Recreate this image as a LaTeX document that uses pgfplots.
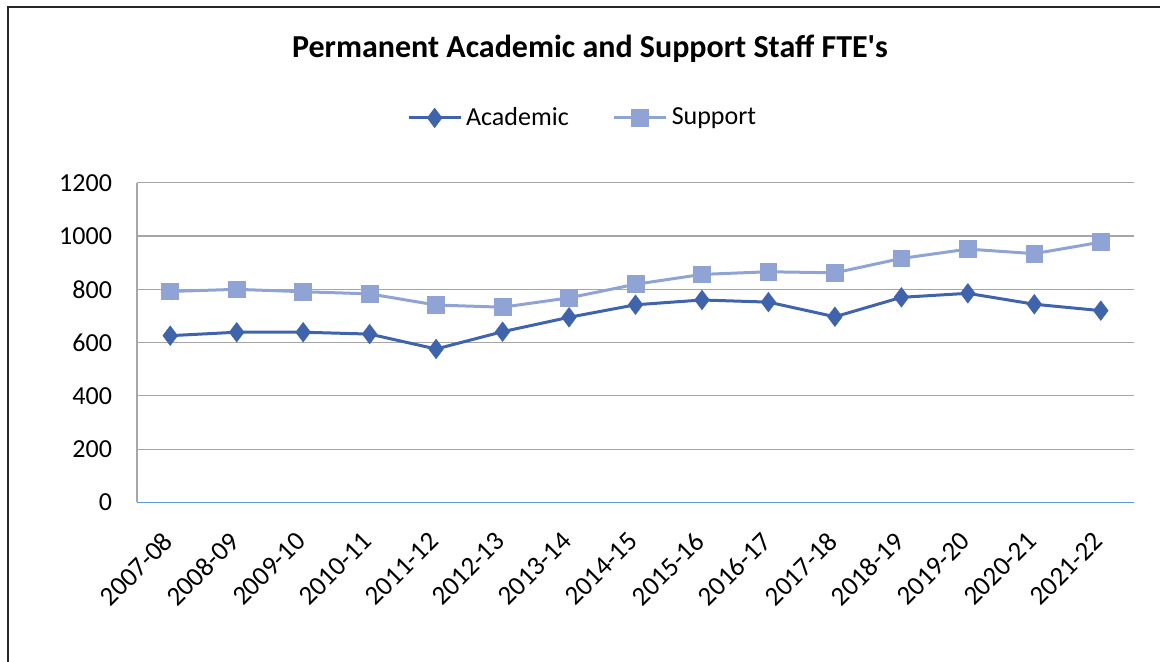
\documentclass[border=0pt]{standalone}
\usepackage{pgfplots}
\pgfplotsset{compat=1.18}
\usepackage{fontspec}
\setmainfont{Carlito}
\definecolor{acad}{RGB}{64,100,172}
\definecolor{supp}{RGB}{143,164,213}
\definecolor{gridc}{RGB}{166,166,166}
\definecolor{xaxc}{RGB}{91,155,213}
\begin{document}
\begin{tikzpicture}
\useasboundingbox (0,0) rectangle (580pt,-331pt);
\draw[black!85, line width=0.6pt] (4pt,-331pt) -- (4pt,-3.5pt) -- (580pt,-3.5pt);
\node[font=\fontsize{16}{19}\selectfont\bfseries] at (295pt,-24.5pt) {Permanent Academic and Support Staff FTE\textquotesingle s};
\begin{axis}[
  at={(68.5pt,-251.2pt)}, anchor=south west,
  scale only axis, width=498.5pt, height=159.8pt,
  xmin=-0.5, xmax=14.5, ymin=0, ymax=1200,
  ytick={0,200,...,1200},
  xtick={0,...,14},
  xticklabels={2007-08,2008-09,2009-10,2010-11,2011-12,2012-13,2013-14,2014-15,2015-16,2016-17,2017-18,2018-19,2019-20,2020-21,2021-22},
  /pgf/number format/assume math mode=true,
  /pgf/number format/set thousands separator={},
  tick style={draw=none},
  ymajorgrids, grid style={gridc, line width=0.6pt},
  axis x line*=bottom, axis y line*=left,
  x axis line style={xaxc, line width=0.6pt, -},
  y axis line style={gridc, line width=0.6pt, -},
  ticklabel style={font=\fontsize{13.5}{15}\selectfont},
  yticklabel style={anchor=east, xshift=-9pt, font=\fontsize{13}{15}\selectfont},
  xticklabel style={rotate=45, anchor=north east, inner sep=0pt, xshift=-12.8pt, yshift=-6.7pt},
  legend style={at={(0.448,1.203)}, anchor=center, draw=none, fill=none,
    legend columns=2, font=\fontsize{13}{15}\selectfont,
    /tikz/every even column/.append style={column sep=20pt}},
  legend image code/.code={\draw[#1, mark repeat=2, mark phase=2] plot coordinates {(0pt,0pt) (13pt,0pt) (26pt,0pt)};},
]
\addplot[acad, line width=1.5pt, mark=diamond*, mark size=4.8pt, mark options={solid, fill=acad, draw=acad, line width=0.4pt}]
coordinates {(0,626) (1,639) (2,639) (3,632) (4,576) (5,641) (6,695) (7,742) (8,760) (9,752) (10,697) (11,770) (12,785) (13,744) (14,720)};
\addlegendentry{Academic}
\addplot[supp, line width=1.5pt, mark=square*, mark size=4.2pt, mark options={solid, fill=supp, draw=supp, line width=0.4pt}]
coordinates {(0,792) (1,800) (2,791) (3,783) (4,741) (5,733) (6,768) (7,819) (8,856) (9,866) (10,862) (11,916) (12,951) (13,934) (14,977)};
\addlegendentry{Support}
\end{axis}
\end{tikzpicture}
\end{document}
